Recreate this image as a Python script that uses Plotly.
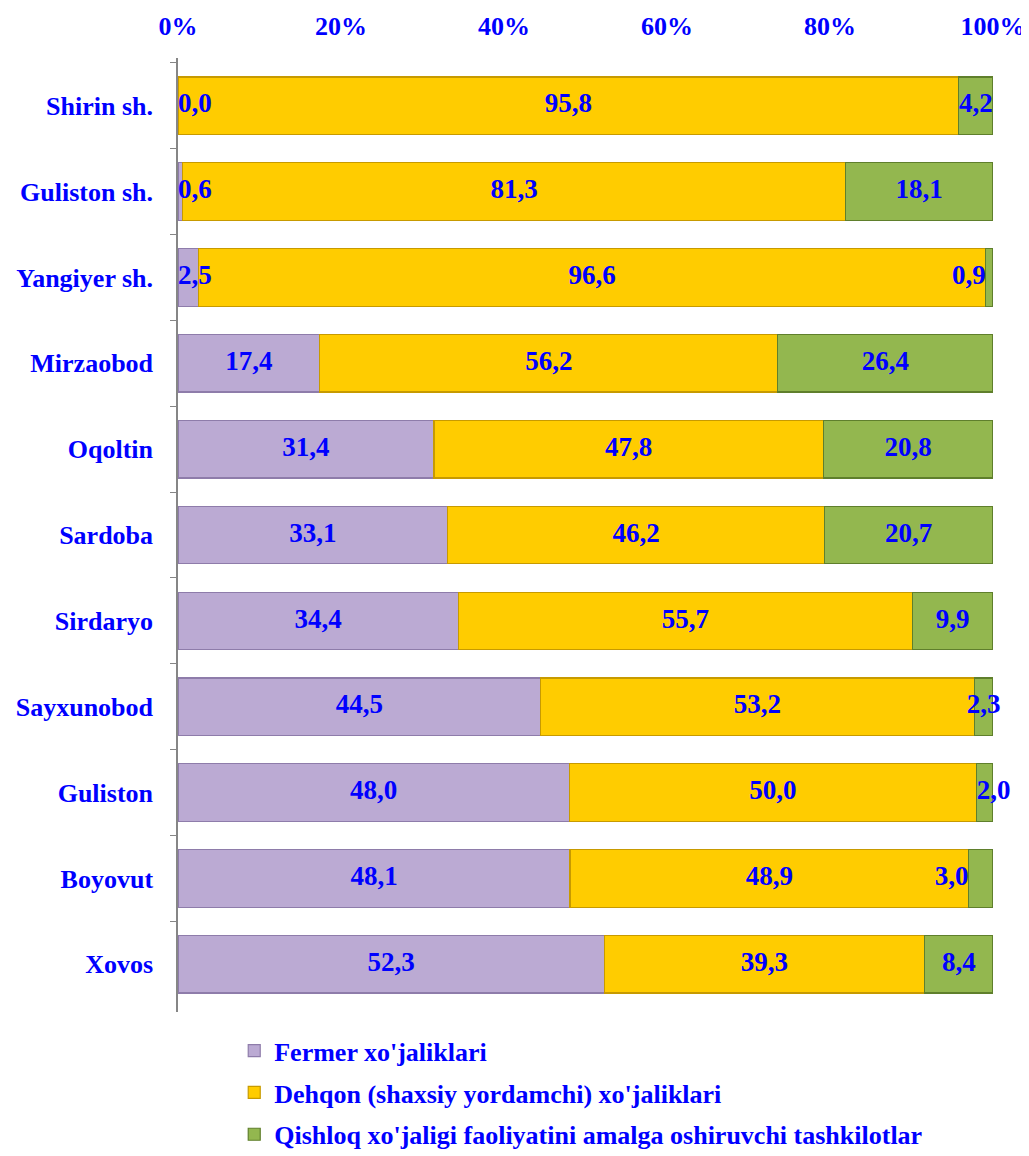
import plotly.graph_objects as go

categories = ["Shirin sh.", "Guliston sh.", "Yangiyer sh.", "Mirzaobod", "Oqoltin",
              "Sardoba", "Sirdaryo", "Sayxunobod", "Guliston", "Boyovut", "Xovos"]
fermer = [0.0, 0.6, 2.5, 17.4, 31.4, 33.1, 34.4, 44.5, 48.0, 48.1, 52.3]
dehqon = [95.8, 81.3, 96.6, 56.2, 47.8, 46.2, 55.7, 53.2, 50.0, 48.9, 39.3]
qishloq = [4.2, 18.1, 0.9, 26.4, 20.8, 20.7, 9.9, 2.3, 2.0, 3.0, 8.4]
series_names = ["Fermer xo'jaliklari", "Dehqon (shaxsiy yordamchi) xo'jaliklari",
                "Qishloq xo'jaligi faoliyatini amalga oshiruvchi tashkilotlar"]
tick_vals = [0, 20, 40, 60, 80, 100]

# label anchoring style per series ("c" centre of segment, "r" right of segment start, "l" left of segment start)
label_anchor = [
    ["r", "r", "r", "c", "c", "c", "c", "c", "c", "c", "c"],
    ["c"] * 11,
    ["c", "c", "l", "c", "c", "c", "c", "c", "r", "l", "c"],
]

FONT = "Liberation Serif, Times New Roman, serif"
BLUE = "#0000FF"
fills = ["#BBAAD3", "#FFCC00", "#93B74F"]
edges = ["#8E7CAA", "#C79A00", "#5F7F2C"]

fig = go.Figure()
series = [fermer, dehqon, qishloq]
for i, vals in enumerate(series):
    fig.add_trace(go.Bar(
        y=categories, x=vals, orientation="h", name=series_names[i],
        marker=dict(color=fills[i], line=dict(color=edges[i], width=1.2)),
        legendgroup=f"g{i}", hoverinfo="x+y"))

def fmt(v):
    return f"{v:.1f}".replace(".", ",")

starts = [[0.0] * len(categories),
          list(fermer),
          [f + d for f, d in zip(fermer, dehqon)]]
for i, vals in enumerate(series):
    xs, pos = [], []
    for j, v in enumerate(vals):
        s = starts[i][j]
        a = label_anchor[i][j]
        if a == "r":
            xs.append(s); pos.append("middle right")
        elif a == "l":
            xs.append(s); pos.append("middle left")
        else:
            xs.append(s + v / 2); pos.append("middle center")
    fig.add_trace(go.Scatter(
        x=xs, y=categories, mode="text", text=[fmt(v) for v in vals],
        textposition=pos, showlegend=False, hoverinfo="skip", cliponaxis=False,
        textfont=dict(family=FONT, size=27, color=BLUE, weight="bold")))

fig.update_layout(
    barmode="stack", bargap=0.33,
    width=1029, height=1156,
    paper_bgcolor="white", plot_bgcolor="white",
    margin=dict(l=170, r=44, t=50, b=152, autoexpand=False),
    font=dict(family=FONT, size=26, color=BLUE, weight="bold"),
    showlegend=True,
    legend=dict(orientation="v", x=0.069, xanchor="left", y=-0.016, yanchor="top",
                traceorder="grouped", tracegroupgap=5,
                font=dict(family=FONT, size=26, color=BLUE, weight="bold"),
                itemwidth=30),
    xaxis=dict(side="top", range=[0, 100], tickvals=tick_vals,
               ticktext=[f"{t}%" for t in tick_vals], showgrid=False,
               zeroline=False, showline=False, ticks="", automargin=False,
               ticklabelstandoff=17,
               tickfont=dict(family=FONT, size=26, color=BLUE, weight="bold")),
    yaxis=dict(categoryorder="array", categoryarray=categories, autorange="reversed",
               showline=True, linecolor="#868686", linewidth=1.5,
               ticks="outside", tickson="boundaries", ticklen=6, tickcolor="#868686",
               showgrid=False, zeroline=False, automargin=False,
               ticklabelstandoff=18,
               tickfont=dict(family=FONT, size=26, color=BLUE, weight="bold")),
)

fig.write_html("out.html")
